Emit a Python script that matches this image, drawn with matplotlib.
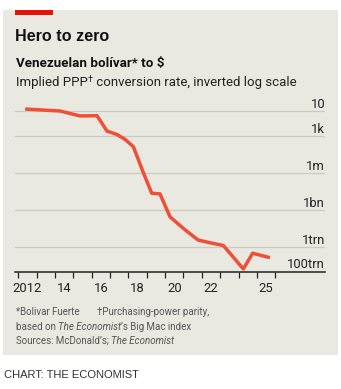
import matplotlib
matplotlib.use("Agg")
import matplotlib.pyplot as plt
import matplotlib.transforms as mtransforms
from matplotlib.patches import Rectangle
from matplotlib.ticker import NullLocator

# ---- data ----
years = [2012.37, 2014.27, 2015.36, 2016.29, 2016.83, 2017.38, 2017.81, 2018.27,
         2018.79, 2019.27, 2019.72, 2020.27, 2020.99, 2021.79, 2022.45, 2023.17,
         2024.26, 2024.77, 2025.71]
rate = [6.9, 10, 25, 24, 420, 800, 1950, 7800,
        8.1e5, 4.6e7, 5.2e7, 3.8e9, 3.2e10, 2.8e11, 4.7e11, 7.8e11,
        6.2e13, 3.3e12, 7.6e12]
grid_values = [10, 1e3, 1e6, 1e9, 1e12]
grid_labels = ["10", "1k", "1m", "1bn", "1trn"]
base_value = 1e14
base_label = "100trn"
tick_years = list(range(2012, 2027))
label_years = [2012.5, 2014.5, 2016.5, 2018.5, 2020.5, 2022.5, 2025.5]
label_texts = ["2012", "14", "16", "18", "20", "22", "25"]

W, H = 341, 389
NARROW = ["Roboto", "DejaVu Sans"]
WIDE = ["Liberation Sans", "DejaVu Sans"]

fig = plt.figure(figsize=(W / 100, H / 100), dpi=100, facecolor="white")

def fx(px):
    return px / W

def fy(py):
    return 1 - py / H

# panel background and red bar
fig.patches.append(Rectangle((fx(3), fy(355)), 335 / W, 345 / H, transform=fig.transFigure,
                             facecolor="#e9e8e1", edgecolor="none", zorder=-2))
fig.patches.append(Rectangle((fx(15), fy(15)), 38 / W, 5 / H, transform=fig.transFigure,
                             facecolor="#e3120b", edgecolor="none", zorder=-1))

renderer = fig.canvas.get_renderer()

def rich(x_px, y_px, parts):
    x = x_px
    for s, props in parts:
        dy = props.pop("dy", 0)
        t = fig.text(fx(x), fy(y_px - dy), s, ha="left", va="baseline", **props)
        bb = t.get_window_extent(renderer=renderer)
        x += bb.width

# titles
fig.text(fx(15), fy(40.7), "Hero to zero", family=WIDE, weight="bold", fontsize=11.6,
         color="#111111", va="baseline")
fig.text(fx(16), fy(67.3), "Venezuelan bolívar* to $", family=NARROW, weight="bold",
         fontsize=9.6, color="#111111", va="baseline")
rich(16, 86, [("Implied PPP", dict(family=NARROW, fontsize=9.5, color="#222222")),
              ("†", dict(family=NARROW, fontsize=6.5, color="#222222", dy=4)),
              (" conversion rate, inverted log scale", dict(family=NARROW, fontsize=9.5,
                                                             color="#222222"))])

# footnotes
fc = "#555555"
fs = 7.0
rich(16, 315, [("*Bolivar Fuerte", dict(family=NARROW, fontsize=fs, color=fc))])
rich(97, 315, [("†Purchasing-power parity,", dict(family=NARROW, fontsize=fs, color=fc))])
rich(16, 329.5, [("based on ", dict(family=NARROW, fontsize=fs, color=fc)),
                 ("The Economist", dict(family=NARROW, fontsize=fs, color=fc, style="italic")),
                 ("’s Big Mac index", dict(family=NARROW, fontsize=fs, color=fc))])
rich(16, 344, [("Sources: McDonald’s; ", dict(family=NARROW, fontsize=fs, color=fc)),
               ("The Economist", dict(family=NARROW, fontsize=fs, color=fc, style="italic"))])
fig.text(fx(3.5), fy(378.3), "CHART: THE ECONOMIST", family=WIDE, fontsize=8.0,
         color="#333333", va="baseline")

# axes
ax = fig.add_axes([fx(15), fy(271.5), 310 / W, (271.5 - 103.6) / H])
ax.set_zorder(2)
ax.set_facecolor("none")
ax.set_yscale("log")
ax.set_ylim(base_value, 10 ** 0.4)
ax.set_xlim(2011.82, 2028.71)
for side in ["left", "right", "top"]:
    ax.spines[side].set_visible(False)
ax.spines["bottom"].set_color("#222222")
ax.spines["bottom"].set_linewidth(1.1)
ax.spines["bottom"].set_zorder(3)

ax.set_yticks([])
ax.yaxis.set_minor_locator(NullLocator())

for v in grid_values:
    ax.axhline(v, color="#cbcac2", lw=0.9, zorder=1)

ax.set_xticks(tick_years)
ax.tick_params(axis="x", which="major", length=4.2, width=0.9, color="#222222",
               labelbottom=False)
ax.set_xticks(label_years, minor=True)
ax.set_xticklabels(label_texts, minor=True)
ax.tick_params(axis="x", which="minor", length=0, pad=7.5, labelsize=9.4,
               labelcolor="#222222")
for lab in ax.get_xticklabels(minor=True):
    lab.set_family(NARROW)

off = mtransforms.ScaledTranslation(0, 3 / 100, fig.dpi_scale_trans)
trans = mtransforms.blended_transform_factory(ax.transAxes, ax.transData) + off
for v, s in zip(grid_values + [base_value], grid_labels + [base_label]):
    ax.text(1.0, v, s, transform=trans, ha="right", va="baseline", family=NARROW,
            fontsize=9.4, color="#222222")

ax.plot(years, rate, color="#ee4f36", lw=2.5, zorder=4, solid_capstyle="butt")

fig.savefig("out.png", dpi=100, facecolor="white")
